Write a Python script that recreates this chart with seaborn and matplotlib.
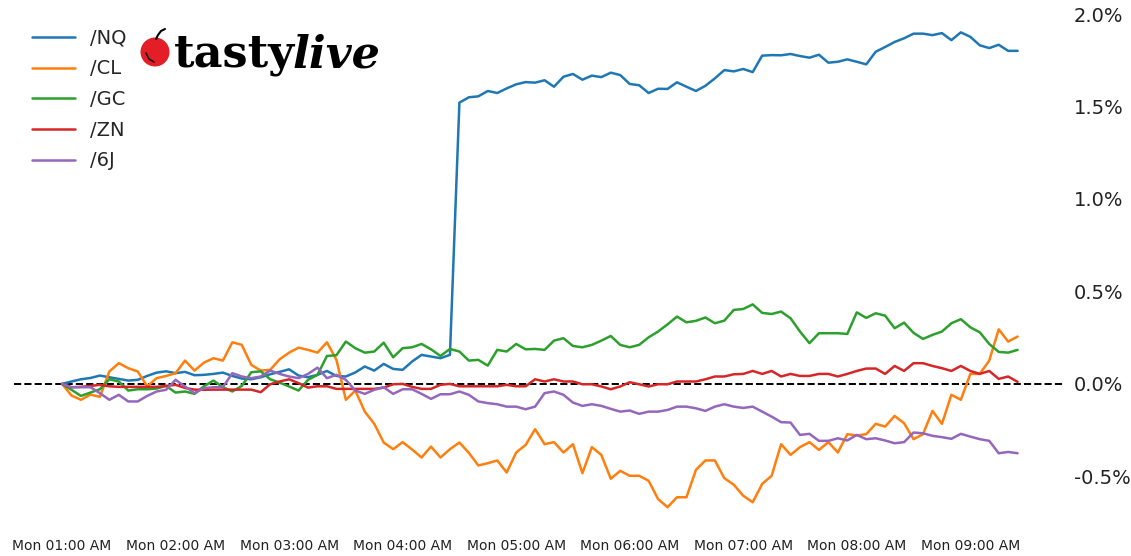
import pandas as pd
import matplotlib
matplotlib.use("Agg")
import matplotlib.pyplot as plt
import matplotlib.dates as mdates
from matplotlib.patches import Circle
from matplotlib.lines import Line2D
from matplotlib.ticker import FuncFormatter
import seaborn as sns

# 5-minute bars, Monday 01:00 AM onwards (percent change from first bar)
times = pd.date_range("2024-01-08 01:00", periods=102, freq="5min")
symbols = ["/NQ", "/CL", "/GC", "/ZN", "/6J"]

nq = [0, 0.013, 0.025, 0.032, 0.045, 0.036, 0.027, 0.018, 0.022, 0.043,
      0.061, 0.068, 0.058, 0.065, 0.047, 0.049, 0.054, 0.061, 0.043, 0.029,
      0.025, 0.036, 0.052, 0.065, 0.079, 0.045, 0.036, 0.049, 0.070, 0.043,
      0.040, 0.062, 0.094, 0.072, 0.108, 0.081, 0.076, 0.121, 0.157, 0.148,
      0.139, 0.157, 1.521, 1.550, 1.555, 1.584, 1.573, 1.598, 1.620, 1.632,
      1.629, 1.642, 1.607, 1.661, 1.676, 1.645, 1.667, 1.659, 1.683, 1.670,
      1.622, 1.615, 1.573, 1.596, 1.595, 1.631, 1.607, 1.584, 1.612, 1.652,
      1.697, 1.690, 1.703, 1.686, 1.775, 1.778, 1.777, 1.784, 1.773, 1.764,
      1.780, 1.737, 1.742, 1.755, 1.742, 1.728, 1.796, 1.822, 1.849, 1.869,
      1.894, 1.894, 1.886, 1.897, 1.859, 1.901, 1.877, 1.831, 1.816, 1.834,
      1.801, 1.801]

cl = [0, -0.063, -0.086, -0.058, -0.070, 0.067, 0.112, 0.085, 0.067, -0.013,
      0.031, 0.043, 0.058, 0.126, 0.072, 0.115, 0.139, 0.126, 0.225, 0.211,
      0.103, 0.072, 0.076, 0.133, 0.169, 0.196, 0.184, 0.169, 0.225, 0.130,
      -0.086, -0.036, -0.150, -0.216, -0.317, -0.353, -0.315, -0.355, -0.398, -0.339,
      -0.398, -0.353, -0.317, -0.373, -0.441, -0.429, -0.414, -0.479, -0.371, -0.330,
      -0.245, -0.326, -0.315, -0.371, -0.326, -0.483, -0.342, -0.384, -0.513, -0.470,
      -0.497, -0.497, -0.524, -0.623, -0.667, -0.613, -0.613, -0.465, -0.414, -0.414,
      -0.510, -0.545, -0.605, -0.640, -0.541, -0.497, -0.326, -0.384, -0.342, -0.315,
      -0.357, -0.315, -0.371, -0.272, -0.279, -0.272, -0.216, -0.231, -0.173, -0.213,
      -0.299, -0.272, -0.146, -0.216, -0.059, -0.086, 0.054, 0.054, 0.126, 0.295,
      0.229, 0.256]

gc = [0, -0.032, -0.065, -0.047, -0.029, 0.025, 0.013, -0.036, -0.029, -0.029,
      -0.025, -0.011, -0.047, -0.041, -0.054, -0.013, 0.018, -0.018, -0.041, -0.011,
      0.063, 0.068, 0.025, 0.007, -0.014, -0.036, 0.022, 0.049, 0.151, 0.155,
      0.229, 0.193, 0.169, 0.175, 0.223, 0.144, 0.193, 0.198, 0.216, 0.187,
      0.151, 0.189, 0.175, 0.126, 0.130, 0.099, 0.184, 0.175, 0.216, 0.187,
      0.189, 0.184, 0.234, 0.247, 0.205, 0.198, 0.211, 0.234, 0.259, 0.211,
      0.198, 0.211, 0.252, 0.283, 0.322, 0.364, 0.333, 0.341, 0.359, 0.328,
      0.342, 0.400, 0.405, 0.430, 0.384, 0.378, 0.391, 0.355, 0.283, 0.220,
      0.274, 0.274, 0.274, 0.270, 0.387, 0.357, 0.382, 0.369, 0.301, 0.331,
      0.276, 0.243, 0.265, 0.283, 0.328, 0.350, 0.306, 0.279, 0.216, 0.173,
      0.169, 0.184]

zn = [0, -0.018, -0.016, -0.011, -0.005, -0.013, -0.016, -0.016, -0.016, -0.016,
      -0.016, -0.011, -0.005, -0.022, -0.031, -0.032, -0.031, -0.031, -0.031, -0.031,
      -0.031, -0.045, -0.002, 0.013, 0.025, 0.004, -0.020, -0.013, -0.013, -0.027,
      -0.027, -0.027, -0.027, -0.027, -0.020, -0.002, 0.000, -0.016, -0.027, -0.027,
      -0.005, 0.000, -0.013, -0.013, -0.013, -0.013, -0.013, -0.005, -0.013, -0.013,
      0.025, 0.013, 0.025, 0.013, 0.013, -0.002, -0.002, -0.014, -0.029, -0.014,
      0.009, -0.002, -0.014, -0.002, -0.002, 0.013, 0.013, 0.013, 0.025, 0.040,
      0.040, 0.052, 0.054, 0.070, 0.054, 0.070, 0.040, 0.054, 0.043, 0.043,
      0.054, 0.054, 0.040, 0.054, 0.070, 0.083, 0.083, 0.054, 0.097, 0.070,
      0.112, 0.112, 0.097, 0.085, 0.070, 0.097, 0.070, 0.054, 0.070, 0.027,
      0.040, 0.011]

j6 = [0, -0.018, -0.018, -0.018, -0.050, -0.086, -0.059, -0.095, -0.095, -0.065,
      -0.041, -0.032, 0.022, -0.014, -0.050, -0.023, -0.018, -0.018, 0.058, 0.040,
      0.031, 0.040, 0.072, 0.054, 0.040, 0.031, 0.054, 0.088, 0.031, 0.049,
      0.022, -0.036, -0.054, -0.032, -0.018, -0.054, -0.029, -0.029, -0.054, -0.081,
      -0.056, -0.056, -0.041, -0.059, -0.095, -0.104, -0.110, -0.123, -0.123, -0.137,
      -0.123, -0.050, -0.041, -0.059, -0.101, -0.119, -0.110, -0.119, -0.135, -0.150,
      -0.144, -0.162, -0.150, -0.150, -0.141, -0.123, -0.123, -0.132, -0.146, -0.123,
      -0.110, -0.123, -0.130, -0.123, -0.150, -0.177, -0.207, -0.209, -0.276, -0.270,
      -0.308, -0.308, -0.294, -0.306, -0.276, -0.299, -0.294, -0.306, -0.321, -0.315,
      -0.263, -0.267, -0.281, -0.288, -0.297, -0.270, -0.285, -0.299, -0.308, -0.375,
      -0.368, -0.375]

df = pd.DataFrame({"time": times, "/NQ": nq, "/CL": cl, "/GC": gc, "/ZN": zn, "/6J": j6})
long_df = df.melt(id_vars="time", var_name="symbol", value_name="pct")

sns.set_style("white")
plt.rcParams["font.family"] = ["DejaVu Sans"]

fig, ax = plt.subplots(figsize=(11.31, 5.56), dpi=100)
fig.subplots_adjust(left=0.0126, right=0.942, bottom=0.045, top=0.9845)

sns.lineplot(data=long_df, x="time", y="pct", hue="symbol", hue_order=symbols,
             palette="tab10", linewidth=1.8, ax=ax)
ax.axhline(0, color="black", linestyle="--", linewidth=1.4, zorder=0)

for s in ax.spines.values():
    s.set_visible(False)
ax.set_xlabel("")
ax.set_ylabel("")

ax.xaxis.set_major_locator(mdates.HourLocator())
ax.xaxis.set_major_formatter(mdates.DateFormatter("%a %I:%M %p"))
ax.tick_params(axis="x", length=0, labelsize=10, pad=6, colors="#222222")

ax.yaxis.tick_right()
ax.yaxis.set_major_formatter(FuncFormatter(lambda v, _: f"{v:.1f}%"))
ax.tick_params(axis="y", length=0, labelsize=14, pad=6, colors="#222222")
ax.set_yticks([-0.5, 0.0, 0.5, 1.0, 1.5, 2.0])

handles, labels = ax.get_legend_handles_labels()
ax.legend(handles, labels, loc="upper left", frameon=False, fontsize=14,
          handlelength=2.2, labelspacing=0.6, bbox_to_anchor=(0, 0.995))

# logo
fig.add_artist(Circle((1.55, 5.04), 0.145, transform=fig.dpi_scale_trans,
                      facecolor="#e31e26", edgecolor="none"))
fig.add_artist(Line2D([1.56, 1.58, 1.61, 1.65], [5.17, 5.21, 5.25, 5.27],
                      transform=fig.dpi_scale_trans, color="black", linewidth=1.5))
fig.add_artist(Line2D([1.46, 1.49, 1.54], [5.03, 4.97, 4.94],
                      transform=fig.dpi_scale_trans, color="#1a1a1a", linewidth=1.2))
t1 = fig.text(174 / 1131, 1 - 67 / 556, "tasty", fontsize=32, fontweight="bold",
              family="DejaVu Serif", color="black", va="baseline")
fig.canvas.draw()
bb = t1.get_window_extent(renderer=fig.canvas.get_renderer())
fig.text(bb.x1 / 1131 - 0.002, 1 - 67 / 556, "live", fontsize=32, fontweight="bold",
         style="italic", family="DejaVu Serif", color="black", va="baseline")

fig.savefig("out.png", dpi=100)
